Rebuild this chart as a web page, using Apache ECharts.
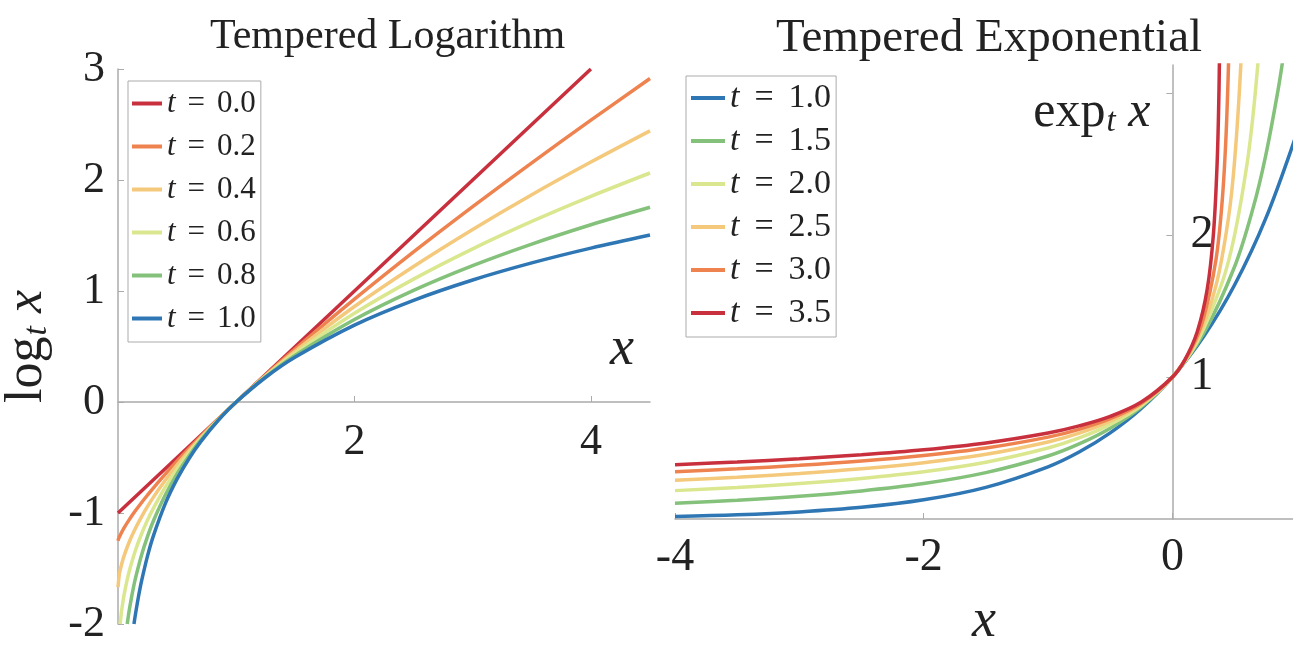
<!DOCTYPE html>
<html>
<head>
<meta charset="utf-8">
<script src="https://cdn.jsdelivr.net/npm/echarts@6/dist/echarts.min.js"></script>
<style>
  html, body { margin: 0; padding: 0; background: #fff; }
  #chart { width: 1293px; height: 653px; }
</style>
</head>
<body>
<div id="chart"></div>
<script>
// tempered logarithm, [x, log_t x]
var logT00 = [[0, -1], [1, 0], [2, 1], [3, 2], [4, 3]];
var logT02 = [[0, -1.25], [0.01, -1.219], [0.05, -1.136], [0.1, -1.052], [0.15, -0.976], [0.2, -0.905], [0.25, -0.838], [0.3, -0.773], [0.4, -0.65], [0.5, -0.532], [0.6, -0.419], [0.7, -0.31], [0.85, -0.152], [1, 0], [1.25, 0.244], [1.5, 0.479], [2, 0.926], [2.5, 1.352], [3, 1.76], [3.5, 2.155], [4, 2.539], [4.5, 2.914]];
var logT04 = [[0, -1.667], [0.01, -1.562], [0.02, -1.507], [0.05, -1.391], [0.1, -1.248], [0.15, -1.133], [0.2, -1.032], [0.25, -0.941], [0.3, -0.857], [0.4, -0.705], [0.5, -0.567], [0.6, -0.44], [0.7, -0.321], [0.85, -0.155], [1, 0], [1.25, 0.239], [1.5, 0.459], [2, 0.86], [2.5, 1.221], [3, 1.555], [3.5, 1.868], [4, 2.162], [4.5, 2.443]];
var logT06 = [[0.018, -2.0], [0.025, -1.929], [0.03, -1.885], [0.05, -1.746], [0.075, -1.613], [0.1, -1.505], [0.15, -1.329], [0.2, -1.187], [0.25, -1.064], [0.3, -0.956], [0.4, -0.767], [0.5, -0.605], [0.6, -0.462], [0.7, -0.333], [0.85, -0.157], [1, 0], [1.25, 0.233], [1.5, 0.44], [2, 0.799], [2.5, 1.107], [3, 1.38], [3.5, 1.627], [4, 1.853], [4.5, 2.063]];
var logT08 = [[0.078, -2.0], [0.09, -1.911], [0.1, -1.845], [0.125, -1.701], [0.15, -1.578], [0.2, -1.376], [0.25, -1.211], [0.3, -1.07], [0.4, -0.838], [0.5, -0.647], [0.6, -0.486], [0.7, -0.344], [0.85, -0.16], [1, 0], [1.25, 0.228], [1.5, 0.422], [2, 0.743], [2.5, 1.006], [3, 1.229], [3.5, 1.423], [4, 1.597], [4.5, 1.755]];
var logT10 = [[0.135, -2.0], [0.15, -1.897], [0.175, -1.743], [0.2, -1.609], [0.25, -1.386], [0.3, -1.204], [0.4, -0.916], [0.5, -0.693], [0.6, -0.511], [0.7, -0.357], [0.85, -0.163], [1, 0], [1.25, 0.223], [1.5, 0.405], [2, 0.693], [2.5, 0.916], [3, 1.099], [3.5, 1.253], [4, 1.386], [4.5, 1.504]];

// tempered exponential, [x, exp_t x]
var expT10 = [[-4, 0.018], [-3.5, 0.03], [-3, 0.05], [-2.5, 0.082], [-2, 0.135], [-1.5, 0.223], [-1, 0.368], [-0.75, 0.472], [-0.5, 0.607], [-0.25, 0.779], [0, 1], [0.25, 1.284], [0.5, 1.649], [0.75, 2.117], [1, 2.718]];
var expT15 = [[-4, 0.111], [-3.5, 0.132], [-3, 0.16], [-2.5, 0.198], [-2, 0.25], [-1.5, 0.327], [-1, 0.444], [-0.75, 0.529], [-0.5, 0.64], [-0.25, 0.79], [0, 1], [0.25, 1.306], [0.5, 1.778], [0.65, 2.195], [0.75, 2.56], [0.85, 3.025], [0.9, 3.306]];
var expT20 = [[-4, 0.2], [-3.5, 0.222], [-3, 0.25], [-2.5, 0.286], [-2, 0.333], [-1.5, 0.4], [-1, 0.5], [-0.75, 0.571], [-0.5, 0.667], [-0.25, 0.8], [0, 1], [0.2, 1.25], [0.4, 1.667], [0.5, 2], [0.6, 2.5], [0.65, 2.857], [0.7, 3.333]];
var expT25 = [[-4, 0.273], [-3.5, 0.295], [-3, 0.321], [-2.5, 0.354], [-2, 0.397], [-1.5, 0.456], [-1, 0.543], [-0.75, 0.605], [-0.5, 0.689], [-0.25, 0.809], [0, 1], [0.2, 1.268], [0.35, 1.643], [0.45, 2.116], [0.5, 2.52], [0.55, 3.196], [0.58, 3.897]];
var expT30 = [[-4, 0.333], [-3.5, 0.354], [-3, 0.378], [-2.5, 0.408], [-2, 0.447], [-1.5, 0.5], [-1, 0.577], [-0.75, 0.632], [-0.5, 0.707], [-0.25, 0.816], [0, 1], [0.15, 1.195], [0.25, 1.414], [0.35, 1.826], [0.4, 2.236], [0.43, 2.673], [0.45, 3.162], [0.46, 3.536]];
var expT35 = [[-4, 0.383], [-3.5, 0.402], [-3, 0.425], [-2.5, 0.453], [-2, 0.488], [-1.5, 0.536], [-1, 0.606], [-0.75, 0.656], [-0.5, 0.723], [-0.25, 0.824], [0, 1], [0.1, 1.122], [0.2, 1.32], [0.28, 1.619], [0.33, 2.008], [0.36, 2.512], [0.375, 3.031], [0.385, 3.719]];

var logTs = ['0.0', '0.2', '0.4', '0.6', '0.8', '1.0'];
var expTs = ['1.0', '1.5', '2.0', '2.5', '3.0', '3.5'];

// ticks
var logXTicks = [2, 4];
var logYTicks = [-2, -1, 0, 1, 2, 3];
var expXTicks = [-4, -2, 0];
var expYTicks = [1, 2];
var expYTickMarks = [1, 2, 3];

var logColors = ['#c9303e', '#ee8350', '#f4c97b', '#dbe78e', '#84c17a', '#2e77b4'];
var expColors = ['#2e77b4', '#84c17a', '#dbe78e', '#f4c97b', '#ee8350', '#c9303e'];

var FONT = 'Liberation Serif';
var INK = '#222';
var AXIS = '#ababab';

// grid boxes (px)
var G1 = { left: 118, top: 69, width: 532, height: 555 };
var G2 = { left: 675, top: 65, width: 618, height: 454 };
var logXMin = 0, logXMax = 4.5, logYMin = -2, logYMax = 3;
var expXMin = -4, expXMax = 0.97, expYMin = 0, expYMax = 3.2;

var chart = echarts.init(document.getElementById('chart'));

function lineSeries(name, data, color, idx) {
  return {
    name: name,
    type: 'line',
    xAxisIndex: idx,
    yAxisIndex: idx,
    data: data,
    showSymbol: false,
    symbol: 'none',
    smooth: 0.35,
    clip: true,
    lineStyle: { width: 3.5, color: color },
    itemStyle: { color: color },
    emphasis: { disabled: true }
  };
}

var logData = [logT00, logT02, logT04, logT06, logT08, logT10];
var expData = [expT10, expT15, expT20, expT25, expT30, expT35];
var series = [];
logData.forEach(function (d, i) {
  series.push(lineSeries('log ' + logTs[i], d, logColors[i], 0));
});
expData.forEach(function (d, i) {
  series.push(lineSeries('exp ' + expTs[i], d, expColors[i], 1));
});

function legendRich(size, padL, padR) {
  return {
    t: { fontFamily: FONT, fontStyle: 'italic', fontSize: size, color: INK },
    eq: { fontFamily: FONT, fontSize: size, color: INK, padding: [0, padR, 0, padL] },
    v: { fontFamily: FONT, fontSize: size, color: INK }
  };
}
function legendText(name) {
  return '{t|t}{eq|=}{v|' + name.split(' ')[1] + '}';
}

function nameRich(size) {
  return {
    r: { fontFamily: FONT, fontSize: size, color: INK },
    s: { fontFamily: FONT, fontStyle: 'italic', fontSize: Math.round(size * 0.65), color: INK, padding: [Math.round(size * 0.38), 0, 0, 1] },
    i: { fontFamily: FONT, fontStyle: 'italic', fontSize: size, color: INK }
  };
}

// axis lines sit on the zero of the other axis
var logXOffset = -G1.height * (0 - logYMin) / (logYMax - logYMin);
var expYOffset = -G2.width * (0 - expXMin) / (expXMax - expXMin);

chart.setOption({
  animation: false,
  title: [{
    text: 'Tempered Logarithm',
    left: 205,
    top: 11,
    textStyle: { fontFamily: FONT, fontWeight: 'normal', fontSize: 42, color: INK }
  }, {
    text: 'Tempered Exponential',
    left: 771,
    top: 10,
    textStyle: { fontFamily: FONT, fontWeight: 'normal', fontSize: 47, color: INK }
  }],
  legend: [{
    orient: 'vertical',
    left: 128,
    top: 81,
    padding: [7, 5, 8, 4],
    itemGap: 12,
    itemWidth: 30,
    itemHeight: 4,
    icon: 'rect',
    borderColor: AXIS,
    borderWidth: 1,
    borderRadius: 0,
    data: logTs.map(function (t) { return 'log ' + t; }),
    formatter: legendText,
    textStyle: { rich: legendRich(31, 12, 12) }
  }, {
    orient: 'vertical',
    left: 686,
    top: 76,
    padding: [5, 5, 7, 5],
    itemGap: 9,
    itemWidth: 34,
    itemHeight: 4,
    icon: 'rect',
    borderColor: AXIS,
    borderWidth: 1,
    borderRadius: 0,
    data: expTs.map(function (t) { return 'exp ' + t; }),
    formatter: legendText,
    textStyle: { rich: legendRich(34, 15, 15) }
  }],
  grid: [
    { left: G1.left, top: G1.top, width: G1.width, height: G1.height, outerBoundsMode: 'none', containLabel: false },
    { left: G2.left, top: G2.top, width: G2.width, height: G2.height, outerBoundsMode: 'none', containLabel: false }
  ],
  xAxis: [{
    gridIndex: 0,
    type: 'value',
    min: logXMin,
    max: logXMax,
    position: 'bottom',
    offset: logXOffset,
    name: 'x',
    nameLocation: 'end',
    nameGap: -40,
    nameTextStyle: { fontFamily: FONT, fontStyle: 'italic', fontSize: 54, color: INK, verticalAlign: 'bottom', lineHeight: 104 },
    axisLine: { onZero: false, lineStyle: { color: AXIS, width: 1.5 } },
    axisTick: { inside: true, length: 6, customValues: logXTicks, lineStyle: { color: AXIS } },
    axisLabel: { customValues: logXTicks, margin: 18, fontFamily: FONT, fontSize: 44, color: INK },
    splitLine: { show: false }
  }, {
    gridIndex: 1,
    type: 'value',
    min: expXMin,
    max: expXMax,
    position: 'bottom',
    name: 'x',
    nameLocation: 'middle',
    nameGap: 76,
    nameTextStyle: { fontFamily: FONT, fontStyle: 'italic', fontSize: 54, color: INK },
    axisLine: { onZero: false, lineStyle: { color: AXIS, width: 1.5 } },
    axisTick: { inside: true, length: 6, customValues: expXTicks, lineStyle: { color: AXIS } },
    axisLabel: { customValues: expXTicks, margin: 16, fontFamily: FONT, fontSize: 46, color: INK },
    splitLine: { show: false }
  }],
  yAxis: [{
    gridIndex: 0,
    type: 'value',
    min: logYMin,
    max: logYMax,
    position: 'left',
    name: '{r|log}{s|t}{i| x}',
    nameLocation: 'middle',
    nameRotate: 90,
    nameGap: 64,
    nameTextStyle: { rich: nameRich(52) },
    axisLine: { show: true, onZero: false, lineStyle: { color: AXIS, width: 1.5 } },
    axisTick: { show: true, inside: true, length: 6, customValues: logYTicks, lineStyle: { color: AXIS } },
    axisLabel: { customValues: logYTicks, margin: 13, fontFamily: FONT, fontSize: 44, color: INK },
    splitLine: { show: false }
  }, {
    gridIndex: 1,
    type: 'value',
    min: expYMin,
    max: expYMax,
    position: 'left',
    offset: expYOffset,
    name: '{r|exp}{s|t}{i| x}',
    nameLocation: 'end',
    nameGap: -48,
    nameTextStyle: { rich: nameRich(50), align: 'right', verticalAlign: 'middle', padding: [0, 22, 0, 0] },
    axisLine: { show: true, onZero: false, lineStyle: { color: AXIS, width: 1.5 } },
    axisTick: { show: true, inside: false, length: 6, customValues: expYTickMarks, lineStyle: { color: AXIS } },
    axisLabel: { inside: true, customValues: expYTicks, margin: 18, fontFamily: FONT, fontSize: 46, color: INK },
    splitLine: { show: false }
  }],
  series: series
});
</script>
</body>
</html>
